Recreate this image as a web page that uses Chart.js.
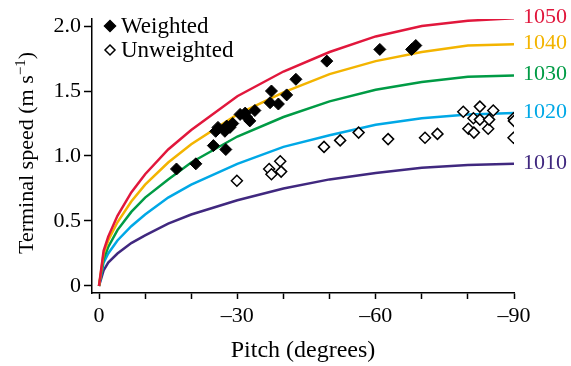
<!DOCTYPE html>
<html>
<head>
<meta charset="utf-8">
<script src="https://cdn.jsdelivr.net/npm/chart.js@4/dist/chart.umd.min.js"></script>
<style>
  html, body { margin: 0; padding: 0; background: #fff; }
  #wrap { width: 571px; height: 366px; }
</style>
</head>
<body>
<div id="wrap"><canvas id="chart"></canvas></div>
<script>
const curvePitch = [0, -1, -2, -4, -7, -10, -15, -20, -30, -40, -50, -60, -70, -80, -90];
const speed1050 = [0, 0.27, 0.38, 0.54, 0.72, 0.86, 1.05, 1.20, 1.46, 1.65, 1.80, 1.92, 2.00, 2.04, 2.06];
const speed1040 = [0, 0.25, 0.35, 0.49, 0.65, 0.78, 0.95, 1.09, 1.32, 1.49, 1.63, 1.73, 1.80, 1.85, 1.86];
const speed1030 = [0, 0.21, 0.30, 0.43, 0.57, 0.68, 0.82, 0.95, 1.15, 1.30, 1.42, 1.51, 1.57, 1.61, 1.62];
const speed1020 = [0, 0.18, 0.25, 0.35, 0.46, 0.55, 0.68, 0.78, 0.94, 1.07, 1.16, 1.24, 1.29, 1.32, 1.33];
const speed1010 = [0, 0.12, 0.18, 0.25, 0.33, 0.39, 0.48, 0.55, 0.66, 0.75, 0.82, 0.87, 0.91, 0.93, 0.94];
const curveNames = ['1050', '1040', '1030', '1020', '1010'];

// observations
const weightedPitch = [-16.8, -21.0, -24.8, -27.5, -25.3, -25.8, -27.3, -27.7, -28.4, -29.0, -30.6, -31.7, -32.7, -32.0, -33.8, -37.4, -37.1, -38.9, -40.7, -42.7, -49.4, -60.9, -67.8, -68.7];
const weightedSpeed = [0.90, 0.94, 1.08, 1.05, 1.19, 1.22, 1.19, 1.23, 1.22, 1.25, 1.32, 1.33, 1.27, 1.30, 1.35, 1.50, 1.41, 1.40, 1.47, 1.59, 1.73, 1.82, 1.82, 1.85];
const unweightedPitch = [-29.9, -36.9, -37.4, -39.3, -39.5, -48.8, -52.3, -56.3, -62.7, -70.7, -73.4, -79.0, -80.1, -81.2, -81.3, -82.6, -82.6, -84.4, -84.6, -85.5, -89.9, -90.0, -89.9];
const unweightedSpeed = [0.81, 0.90, 0.86, 0.96, 0.88, 1.07, 1.12, 1.18, 1.13, 1.14, 1.17, 1.34, 1.21, 1.29, 1.18, 1.38, 1.28, 1.21, 1.28, 1.35, 1.29, 1.27, 1.14];

const xTicks = [0, -10, -20, -30, -40, -50, -60, -70, -80, -90];
const yTicks = [0, 0.5, 1.0, 1.5, 2.0];

const curveColors = ['#e1173c', '#f3b400', '#009b45', '#00a8e6', '#40287f'];
const serif = "'Liberation Serif', 'DejaVu Serif', serif";

function pts(xs, ys){
    return xs.map((x, i) => ({x: x, y: ys[i]}));
}

const curveData = [speed1050, speed1040, speed1030, speed1020, speed1010];
const curveSets = curveData.map((s, i) => ({
    label: curveNames[i],
    data: pts(curvePitch, s),
    showLine: true,
    borderColor: curveColors[i],
    borderWidth: 2.5,
    pointRadius: 0,
    tension: 0,
    order: 2
}));

const sideLabels = {
    id: 'sideLabels',
    afterDatasetsDraw(chart){
        const ctx = chart.ctx;
        ctx.save();
        ctx.font = '22px ' + serif;
        ctx.textBaseline = 'middle';
        ctx.textAlign = 'left';
        chart.data.datasets.forEach((ds, i) => {
            if (!ds.showLine) return;
            const meta = chart.getDatasetMeta(i);
            const last = meta.data[meta.data.length - 1];
            ctx.fillStyle = ds.borderColor;
            ctx.fillText(ds.label, chart.chartArea.right + 9, last.y - 1);
        });

        // legend
        const diamond = (x, y, r, fill) => {
            ctx.beginPath();
            ctx.moveTo(x, y - r);
            ctx.lineTo(x + r, y);
            ctx.lineTo(x, y + r);
            ctx.lineTo(x - r, y);
            ctx.closePath();
            ctx.fillStyle = fill;
            ctx.fill();
            ctx.lineWidth = 1.5;
            ctx.strokeStyle = '#000';
            ctx.stroke();
        };
        diamond(110, 26, 5.5, '#000');
        diamond(110, 50, 5, '#fff');
        ctx.fillStyle = '#000';
        ctx.font = '23px ' + serif;
        ctx.textBaseline = 'alphabetic';
        ctx.fillText('Weighted', 121, 33);
        ctx.fillText('Unweighted', 121, 57);

        // y axis title with superscript
        ctx.translate(33, 153);
        ctx.rotate(-Math.PI / 2);
        const main = 'Terminal speed (m s';
        const sup = '\u22121';
        ctx.font = '22px ' + serif;
        const w1 = ctx.measureText(main).width;
        const w3 = ctx.measureText(')').width;
        ctx.font = '15px ' + serif;
        const w2 = ctx.measureText(sup).width;
        let x = -(w1 + w2 + w3) / 2;
        ctx.font = '22px ' + serif;
        ctx.fillText(main, x, 0);
        x += w1;
        ctx.font = '15px ' + serif;
        ctx.fillText(sup, x, -8);
        x += w2;
        ctx.font = '22px ' + serif;
        ctx.fillText(')', x, 0);
        ctx.restore();
    }
};

new Chart(document.getElementById('chart'), {
    type: 'scatter',
    data: {
        datasets: [
            {
                label: 'Weighted',
                data: pts(weightedPitch, weightedSpeed),
                pointStyle: 'rectRot',
                pointRadius: 6,
                backgroundColor: '#000',
                borderColor: '#000',
                borderWidth: 1,
                order: 0
            },
            {
                label: 'Unweighted',
                data: pts(unweightedPitch, unweightedSpeed),
                pointStyle: 'rectRot',
                pointRadius: 5.5,
                backgroundColor: '#fff',
                borderColor: '#000',
                borderWidth: 1.5,
                order: 1
            },
            ...curveSets
        ]
    },
    options: {
        responsive: true,
        maintainAspectRatio: false,
        animation: false,
        layout: {
            padding: {left: 0, right: 57, top: 19, bottom: 0}
        },
        scales: {
            x: {
                type: 'linear',
                reverse: true,
                min: -90,
                max: 1.52,
                afterBuildTicks(scale){
                    scale.ticks = xTicks.map(v => ({value: v}));
                },
                afterFit(scale){
                    scale.height = 73;
                },
                grid: {
                    drawOnChartArea: false,
                    drawTicks: true,
                    tickLength: 6,
                    tickWidth: 1.5,
                    color: '#000'
                },
                border: {
                    display: true,
                    color: '#000',
                    width: 1.5
                },
                ticks: {
                    color: '#000',
                    padding: 4,
                    maxRotation: 0,
                    autoSkip: false,
                    font: {family: serif, size: 22},
                    callback: function(value){
                        if (value === 0) return '0';
                        return value % 30 === 0 ? '\u2013' + Math.abs(value) : '';
                    }
                },
                title: {
                    display: true,
                    text: 'Pitch (degrees)',
                    color: '#000',
                    font: {family: serif, size: 24},
                    padding: {top: 0, bottom: 1}
                }
            },
            y: {
                type: 'linear',
                min: -0.054,
                max: 2.054,
                afterBuildTicks(scale){
                    scale.ticks = yTicks.map(v => ({value: v}));
                },
                afterFit(scale){
                    scale.width = 92;
                },
                grid: {
                    drawOnChartArea: false,
                    drawTicks: true,
                    tickLength: 8,
                    tickWidth: 1.5,
                    color: '#000'
                },
                border: {
                    display: true,
                    color: '#000',
                    width: 1.5
                },
                ticks: {
                    color: '#000',
                    padding: 3,
                    font: {family: serif, size: 22},
                    callback: function(value){
                        return value === 0 ? '0' : value.toFixed(1);
                    }
                }
            }
        },
        plugins: {
            legend: {display: false},
            tooltip: {enabled: false}
        }
    },
    plugins: [sideLabels]
});
</script>
</body>
</html>
